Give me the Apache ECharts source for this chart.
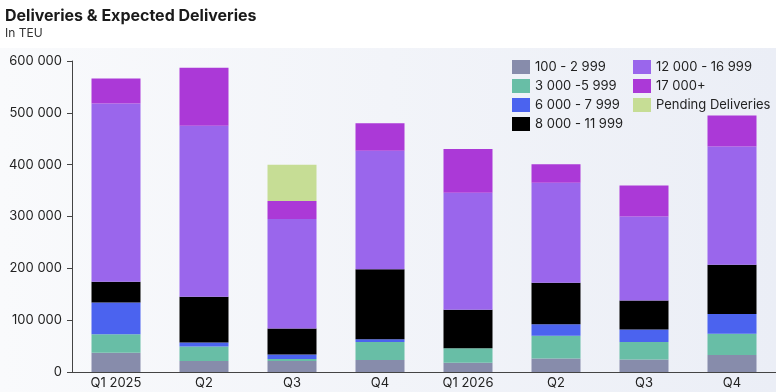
<!DOCTYPE html>
<html><head><meta charset="utf-8">
<script src="https://cdn.jsdelivr.net/npm/echarts@6/dist/echarts.min.js"></script>
<style>html,body{margin:0;padding:0;background:#fff}#c{width:776px;height:392px}</style>
</head><body><div id="c"></div>
<script>
const categories = ['Q1 2025','Q2','Q3','Q4','Q1 2026','Q2','Q3','Q4'];
const s100_2999   = [37000, 21000, 21000, 23000, 18000, 26000, 24000, 33000];
const s3000_5999  = [36000, 28000, 4000, 35000, 28000, 44000, 34000, 41000];
const s6000_7999  = [61000, 8000, 9000, 5000, 0, 22000, 24000, 38000];
const s8000_11999 = [40000, 88000, 50000, 135000, 74000, 80000, 56000, 95000];
const s12000_16999= [344000, 330000, 211000, 229000, 226000, 193000, 162000, 228000];
const s17000p     = [48000, 112000, 35000, 53000, 84000, 36000, 60000, 60000];
const sPending    = [0, 0, 70000, 0, 0, 0, 0, 0];
const seriesNames = ['100 - 2 999','3 000 -5 999','6 000 - 7 999','8 000 - 11 999','12 000 - 16 999','17 000+','Pending Deliveries'];
const seriesData = [s100_2999, s3000_5999, s6000_7999, s8000_11999, s12000_16999, s17000p, sPending];
const colors = ['#878cab','#68bea6','#4b63ef','#000000','#9a66ec','#ab39d7','#c6dd95'];
const yTicks = [0,100000,200000,300000,400000,500000,600000];

const font = 'Inter, "Noto Sans", sans-serif';
const chart = echarts.init(document.getElementById('c'), null, {renderer:'canvas'});
const fmt = v => v === 0 ? '0' : String(v).replace(/\B(?=(\d{3})+(?!\d))/g, ' ');
chart.setOption({
  animation: false,
  backgroundColor: '#ffffff',
  graphic: [
    {type:'rect', z:-10, shape:{x:0,y:48,width:776,height:344},
     style:{fill:new echarts.graphic.LinearGradient(0,0,1,0,[{offset:0,color:'#f9fafc'},{offset:1,color:'#ebeef6'}])}},
    {type:'text', left:5, top:8, style:{text:'Deliveries & Expected Deliveries', font:'bold 16px '+font, fill:'#1a1a1a'}},
    {type:'text', left:5, top:27, style:{text:'In TEU', font:'12px '+font, fill:'#333'}}
  ],
  legend: [
    {data: seriesNames.slice(0,4), orient:'vertical', left:507, top:55, itemWidth:18, itemHeight:14, itemGap:5,
     icon:'rect', textStyle:{fontFamily:font, fontSize:13, color:'#222'}},
    {data: seriesNames.slice(4), orient:'vertical', left:628, top:55, itemWidth:18, itemHeight:14, itemGap:5,
     icon:'rect', textStyle:{fontFamily:font, fontSize:13, color:'#222'}}
  ],
  grid: {left:72, top:61, width:712, height:311, containLabel:false},
  xAxis: {type:'category', data:categories,
    axisLine:{lineStyle:{color:'#444', width:1}}, axisTick:{show:false},
    axisLabel:{fontFamily:font, fontSize:13, color:'#222', margin:5}},
  yAxis: {type:'value', min:0, max:600000, interval:100000,
    splitLine:{show:false},
    axisLine:{show:true, lineStyle:{color:'#444'}},
    axisTick:{show:true, length:5, lineStyle:{color:'#444'}},
    axisLabel:{fontFamily:font, fontSize:13, color:'#222', margin:10, formatter: v => fmt(v)}},
  series: seriesData.map((d,i)=>({
    name: seriesNames[i], type:'bar', stack:'total', data:d, barWidth:49,
    itemStyle:{color:colors[i]}
  }))
});
</script></body></html>
